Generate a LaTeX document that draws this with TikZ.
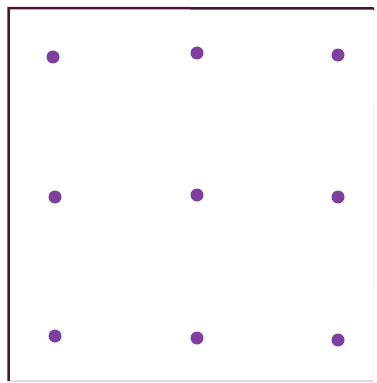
\documentclass[tikz,border=0pt]{standalone}
\usepackage{xcolor}
\usepackage{tikz}
\usetikzlibrary{positioning}

\definecolor{framecol}{HTML}{4A1430}
\definecolor{faintcol}{HTML}{EAD8E0}
\definecolor{palecol}{HTML}{F3F0F3}
\definecolor{dotcol}{HTML}{7E3F9E}

\begin{document}
\begin{tikzpicture}[
  x=1pt, y=-1pt,
  dot/.style   = {circle, fill=dotcol, draw=none, minimum size=13pt, inner sep=0pt},
  edge/.style  = {draw=framecol, line width=2.5pt},
  soft/.style  = {draw=faintcol, line width=1.2pt},
  pale/.style  = {draw=palecol, line width=1pt},
]
\useasboundingbox (0,0) rectangle (377,383);

%% -- Frame -----------------------------------------------------------------
\coordinate (tl) at (8.5,8);
\coordinate (tr) at (374,8.5);
\coordinate (bl) at (8.5,381);
\coordinate (br) at (373,381);
\draw[pale] (br) -- (tr);
\draw[soft] (bl) -- (br);
\draw[edge] (bl) -- (tl) -- (tr);

%% -- Dots ------------------------------------------------------------------
\foreach \name/\px/\py in {d11/53/57, d12/197/53, d13/338/55,
                           d21/55/197, d22/197/195, d23/338/197,
                           d31/55/336, d32/197/338, d33/338/340}
  \node[dot] (\name) at (\px,\py) {};

\end{tikzpicture}
\end{document}
